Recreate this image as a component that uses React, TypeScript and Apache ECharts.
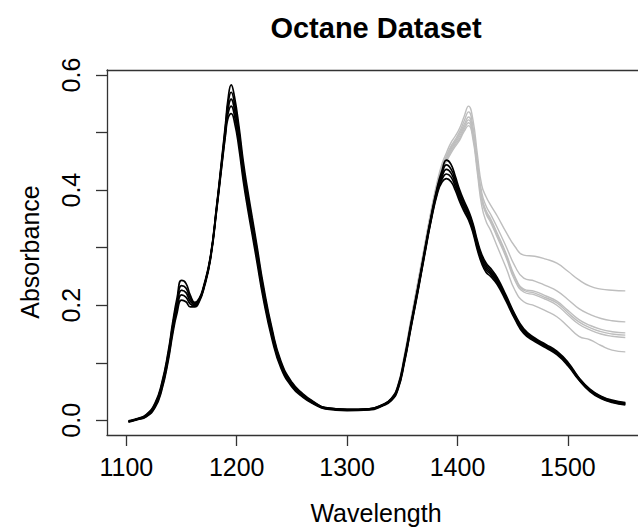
import React, { useEffect, useRef } from "react";
import * as echarts from "echarts";

const wavelength = [
  1102, 1110, 1118, 1126, 1132, 1138, 1142, 1146, 1150, 1154,
  1158, 1162, 1166, 1170, 1176, 1182, 1186, 1190, 1192, 1195,
  1198, 1202, 1206, 1210, 1214, 1218, 1224, 1232, 1240, 1250,
  1260, 1270, 1280, 1300, 1320, 1332, 1340, 1346, 1352, 1358,
  1364, 1370, 1376, 1382, 1386, 1390, 1394, 1398, 1402, 1406,
  1410, 1414, 1418, 1422, 1426, 1430, 1436, 1444, 1452, 1460,
  1470, 1480, 1490, 1500, 1510, 1520, 1530, 1540, 1552,
];

// Regular samples (black)
const blackA = [
  -0.001, 0.003, 0.010, 0.030, 0.064, 0.120, 0.170, 0.213, 0.243, 0.238,
  0.217, 0.205, 0.212, 0.233, 0.283, 0.376, 0.446, 0.518, 0.556, 0.583,
  0.562, 0.511, 0.449, 0.399, 0.353, 0.307, 0.236, 0.159, 0.103, 0.066,
  0.046, 0.032, 0.022, 0.019, 0.020, 0.027, 0.038, 0.059, 0.109, 0.170,
  0.230, 0.293, 0.354, 0.408, 0.434, 0.452, 0.445, 0.424, 0.400, 0.381,
  0.364, 0.342, 0.312, 0.288, 0.273, 0.264, 0.248, 0.217, 0.184, 0.159,
  0.143, 0.132, 0.120, 0.101, 0.074, 0.054, 0.042, 0.035, 0.031,
];
const blackB = [
  -0.002, 0.002, 0.009, 0.028, 0.061, 0.116, 0.165, 0.206, 0.234, 0.230,
  0.212, 0.203, 0.210, 0.231, 0.281, 0.374, 0.443, 0.513, 0.548, 0.570,
  0.551, 0.502, 0.440, 0.391, 0.345, 0.300, 0.230, 0.155, 0.100, 0.064,
  0.044, 0.031, 0.022, 0.019, 0.020, 0.027, 0.037, 0.058, 0.107, 0.168,
  0.228, 0.291, 0.352, 0.405, 0.429, 0.444, 0.437, 0.418, 0.395, 0.376,
  0.360, 0.338, 0.308, 0.284, 0.269, 0.260, 0.245, 0.214, 0.182, 0.157,
  0.141, 0.130, 0.118, 0.099, 0.073, 0.053, 0.041, 0.034, 0.030,
];
const blackC = [
  -0.002, 0.002, 0.008, 0.026, 0.058, 0.112, 0.160, 0.200, 0.226, 0.222,
  0.207, 0.201, 0.209, 0.230, 0.280, 0.372, 0.440, 0.508, 0.540, 0.558,
  0.540, 0.492, 0.432, 0.383, 0.338, 0.293, 0.224, 0.150, 0.097, 0.062,
  0.043, 0.030, 0.021, 0.018, 0.019, 0.026, 0.036, 0.056, 0.105, 0.166,
  0.226, 0.289, 0.350, 0.402, 0.424, 0.436, 0.430, 0.412, 0.390, 0.372,
  0.356, 0.334, 0.304, 0.280, 0.265, 0.257, 0.242, 0.212, 0.180, 0.155,
  0.140, 0.129, 0.117, 0.098, 0.072, 0.052, 0.040, 0.033, 0.029,
];
const blackD = [
  -0.002, 0.002, 0.007, 0.024, 0.055, 0.108, 0.155, 0.194, 0.218, 0.214,
  0.202, 0.199, 0.208, 0.229, 0.279, 0.370, 0.437, 0.503, 0.532, 0.546,
  0.529, 0.483, 0.424, 0.375, 0.331, 0.286, 0.218, 0.146, 0.094, 0.060,
  0.042, 0.029, 0.021, 0.018, 0.019, 0.026, 0.035, 0.055, 0.103, 0.164,
  0.224, 0.287, 0.348, 0.399, 0.419, 0.428, 0.423, 0.406, 0.385, 0.368,
  0.352, 0.330, 0.300, 0.276, 0.261, 0.254, 0.239, 0.210, 0.178, 0.153,
  0.139, 0.128, 0.116, 0.097, 0.071, 0.051, 0.039, 0.032, 0.028,
];
const blackE = [
  -0.003, 0.001, 0.006, 0.022, 0.052, 0.104, 0.150, 0.187, 0.209, 0.206,
  0.197, 0.197, 0.206, 0.227, 0.277, 0.368, 0.434, 0.498, 0.524, 0.533,
  0.518, 0.473, 0.415, 0.367, 0.323, 0.279, 0.212, 0.141, 0.091, 0.058,
  0.040, 0.028, 0.020, 0.017, 0.018, 0.025, 0.034, 0.053, 0.101, 0.162,
  0.222, 0.285, 0.346, 0.396, 0.414, 0.420, 0.415, 0.400, 0.380, 0.363,
  0.348, 0.326, 0.296, 0.272, 0.257, 0.250, 0.236, 0.207, 0.176, 0.151,
  0.137, 0.126, 0.114, 0.095, 0.070, 0.050, 0.038, 0.031, 0.027,
];

// Samples with added alcohol (grey): identical to the bundle up to 1332 nm
const greyShared = [
  -0.002, 0.002, 0.008, 0.026, 0.058, 0.112, 0.160, 0.200, 0.226, 0.222,
  0.207, 0.201, 0.209, 0.230, 0.280, 0.372, 0.440, 0.508, 0.540, 0.558,
  0.540, 0.492, 0.432, 0.383, 0.338, 0.293, 0.224, 0.150, 0.097, 0.062,
  0.043, 0.030, 0.021, 0.018, 0.019, 0.026,
];
const greyA = [...greyShared,
  0.038, 0.062, 0.115, 0.178, 0.240, 0.302, 0.364, 0.418, 0.446, 0.465,
  0.482, 0.494, 0.508, 0.528, 0.546, 0.522, 0.462, 0.408, 0.388, 0.374,
  0.355, 0.327, 0.302, 0.287, 0.285, 0.280, 0.273, 0.259, 0.244, 0.233,
  0.228, 0.226, 0.225,
];
const greyB = [...greyShared,
  0.037, 0.060, 0.112, 0.175, 0.237, 0.299, 0.361, 0.414, 0.442, 0.460,
  0.476, 0.488, 0.502, 0.520, 0.536, 0.510, 0.450, 0.395, 0.372, 0.358,
  0.335, 0.302, 0.268, 0.247, 0.242, 0.234, 0.225, 0.210, 0.194, 0.184,
  0.177, 0.173, 0.171,
];
const greyC = [...greyShared,
  0.037, 0.060, 0.112, 0.174, 0.236, 0.298, 0.360, 0.412, 0.440, 0.457,
  0.473, 0.485, 0.498, 0.514, 0.527, 0.502, 0.443, 0.388, 0.364, 0.350,
  0.325, 0.290, 0.250, 0.228, 0.224, 0.216, 0.207, 0.191, 0.175, 0.165,
  0.158, 0.154, 0.152,
];
const greyD = [...greyShared,
  0.036, 0.059, 0.110, 0.172, 0.234, 0.296, 0.358, 0.410, 0.438, 0.455,
  0.470, 0.482, 0.494, 0.510, 0.522, 0.498, 0.440, 0.385, 0.361, 0.347,
  0.322, 0.287, 0.247, 0.226, 0.221, 0.213, 0.204, 0.187, 0.171, 0.161,
  0.154, 0.150, 0.148,
];
const greyE = [...greyShared,
  0.036, 0.059, 0.110, 0.172, 0.233, 0.295, 0.357, 0.408, 0.436, 0.452,
  0.467, 0.479, 0.490, 0.506, 0.517, 0.494, 0.437, 0.382, 0.358, 0.344,
  0.318, 0.283, 0.243, 0.223, 0.218, 0.210, 0.200, 0.183, 0.167, 0.157,
  0.150, 0.146, 0.144,
];
const greyF = [...greyShared,
  0.036, 0.058, 0.108, 0.170, 0.231, 0.293, 0.355, 0.406, 0.434, 0.450,
  0.464, 0.476, 0.487, 0.502, 0.512, 0.488, 0.430, 0.372, 0.345, 0.330,
  0.302, 0.265, 0.226, 0.206, 0.199, 0.190, 0.180, 0.163, 0.146, 0.140,
  0.130, 0.122, 0.119,
];

const blackSeries = [blackA, blackB, blackC, blackD, blackE];
const greySeries = [greyA, greyB, greyC, greyD, greyE, greyF];

const xTicks = [1100, 1200, 1300, 1400, 1500];
const yTicks = [0, 0.1, 0.2, 0.3, 0.4, 0.5, 0.6];
const yLabels = [0, 0.2, 0.4, 0.6];

const FONT = '"Liberation Sans", Arial, Helvetica, sans-serif';
const AXIS_COLOR = "#333";

function toPairs(values: number[]) {
  return wavelength.map((w, i) => [w, values[i]]);
}

export default function App() {
  const ref = useRef<HTMLDivElement>(null);

  useEffect(() => {
    document.body.style.margin = "0";
    if (!ref.current) return;
    const chart = echarts.init(ref.current, null, { renderer: "svg" });

    const lineBase = {
      type: "line" as const,
      showSymbol: false,
      symbol: "none",
      smooth: 0.5,
      silent: true,
      emphasis: { disabled: true },
      xAxisIndex: 0,
      yAxisIndex: 0,
    };

    const series = [
      ...greySeries.map((v, i) => ({
        ...lineBase,
        name: "alcohol" + i,
        data: toPairs(v),
        lineStyle: { color: "#BEBEBE", width: 1.4 },
        z: 2,
      })),
      ...blackSeries.map((v, i) => ({
        ...lineBase,
        name: "regular" + i,
        data: toPairs(v),
        lineStyle: { color: "#000000", width: 1.7 },
        z: 3,
      })),
    ];

    chart.setOption({
      animation: false,
      backgroundColor: "#ffffff",
      grid: { left: 107, top: 70, right: 0, bottom: 94, containLabel: false },
      xAxis: [
        {
          type: "value",
          min: 1082.5,
          max: 1563.5,
          position: "bottom",
          axisLine: { show: true, onZero: false, lineStyle: { color: AXIS_COLOR, width: 1.3 } },
          axisTick: { show: true, length: 11, customValues: xTicks, lineStyle: { color: AXIS_COLOR, width: 1.3 } },
          axisLabel: {
            customValues: xTicks,
            fontSize: 25,
            fontFamily: FONT,
            color: "#000",
            margin: 19,
            formatter: (v: number) => String(v),
          },
          splitLine: { show: false },
        },
        {
          type: "value",
          min: 1082.5,
          max: 1563.5,
          position: "top",
          axisLine: { show: true, onZero: false, lineStyle: { color: AXIS_COLOR, width: 1.3 } },
          axisTick: { show: false },
          axisLabel: { show: false },
          splitLine: { show: false },
        },
      ],
      yAxis: {
        type: "value",
        min: -0.0255,
        max: 0.6087,
        axisLine: { show: true, onZero: false, lineStyle: { color: AXIS_COLOR, width: 1.3 } },
        axisTick: { show: true, length: 11, customValues: yTicks, lineStyle: { color: AXIS_COLOR, width: 1.3 } },
        axisLabel: {
          customValues: yLabels,
          rotate: 90,
          fontSize: 25,
          fontFamily: FONT,
          color: "#000",
          margin: 24,
          formatter: (v: number) => v.toFixed(1),
        },
        splitLine: { show: false },
      },
      graphic: [
        {
          type: "text",
          x: 376,
          y: 28,
          style: {
            text: "Octane Dataset",
            fill: "#000",
            font: `bold 29px ${FONT}`,
            textAlign: "center",
            textVerticalAlign: "middle",
          },
        },
        {
          type: "text",
          x: 376,
          y: 513,
          style: {
            text: "Wavelength",
            fill: "#000",
            font: `25px ${FONT}`,
            textAlign: "center",
            textVerticalAlign: "middle",
          },
        },
        {
          type: "text",
          x: 30,
          y: 252,
          rotation: Math.PI / 2,
          style: {
            text: "Absorbance",
            fill: "#000",
            font: `25px ${FONT}`,
            textAlign: "center",
            textVerticalAlign: "middle",
          },
        },
      ],
      series,
    });

    return () => chart.dispose();
  }, []);

  return <div ref={ref} style={{ width: 638, height: 529 }} />;
}
